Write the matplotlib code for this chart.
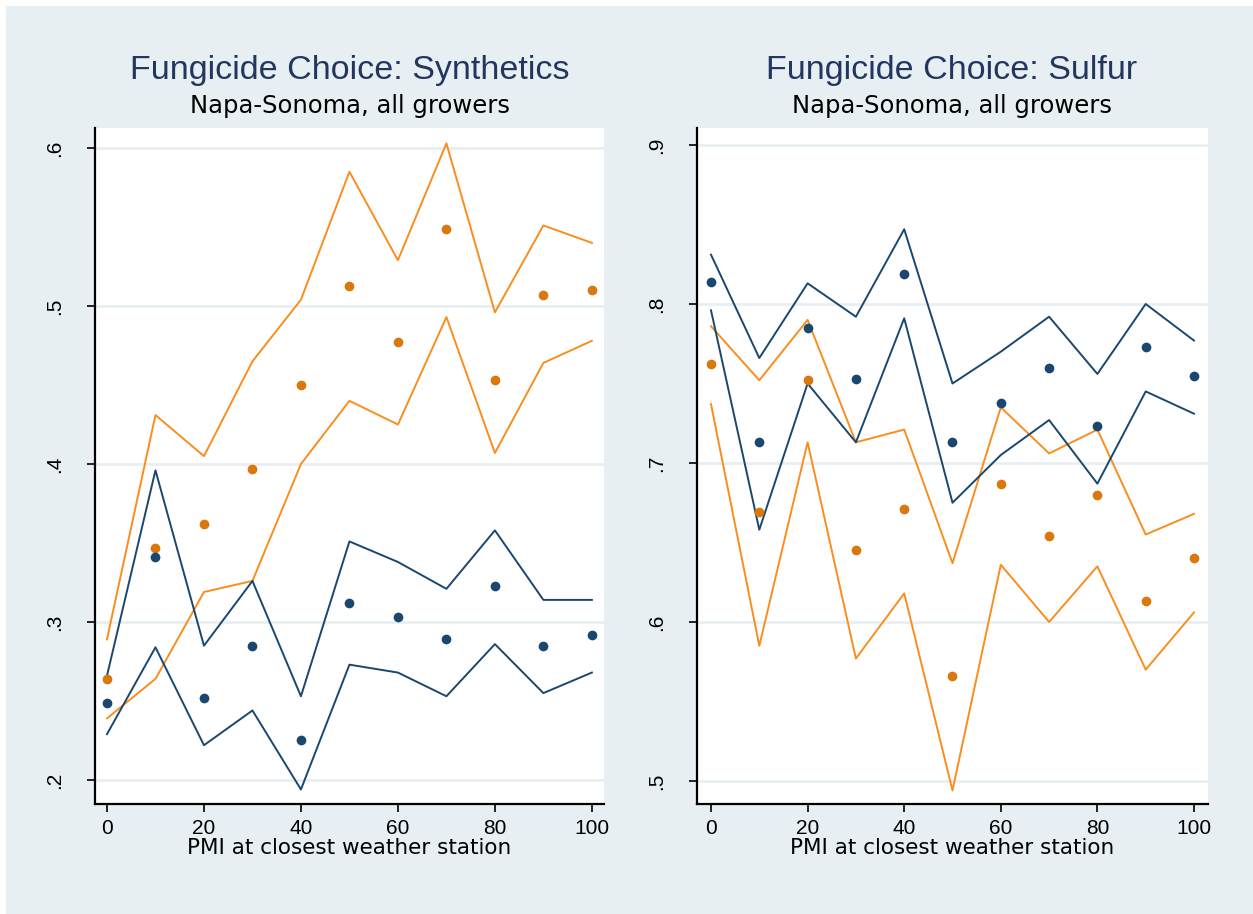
import numpy as np
import matplotlib
matplotlib.use("Agg")
import matplotlib.pyplot as plt
from matplotlib.patches import Rectangle

# PMI levels at the closest weather station
pmi = [0, 10, 20, 30, 40, 50, 60, 70, 80, 90, 100]

# Synthetics: predicted share with confidence bands (two grower groups)
syn_navy = [0.249, 0.341, 0.252, 0.285, 0.225, 0.312, 0.303, 0.289, 0.323, 0.285, 0.292]
syn_navy_hi = [0.266, 0.396, 0.285, 0.326, 0.253, 0.351, 0.338, 0.321, 0.358, 0.314, 0.314]
syn_navy_lo = [0.229, 0.284, 0.222, 0.244, 0.194, 0.273, 0.268, 0.253, 0.286, 0.255, 0.268]
syn_orange = [0.264, 0.347, 0.362, 0.397, 0.450, 0.513, 0.477, 0.549, 0.453, 0.507, 0.510]
syn_orange_hi = [0.289, 0.431, 0.405, 0.465, 0.504, 0.585, 0.529, 0.603, 0.496, 0.551, 0.540]
syn_orange_lo = [0.239, 0.264, 0.319, 0.326, 0.400, 0.440, 0.425, 0.493, 0.407, 0.464, 0.478]

# Sulfur: predicted share with confidence bands
sul_navy = [0.814, 0.713, 0.785, 0.753, 0.819, 0.713, 0.738, 0.760, 0.723, 0.773, 0.755]
sul_navy_hi = [0.831, 0.766, 0.813, 0.792, 0.847, 0.750, 0.770, 0.792, 0.756, 0.800, 0.777]
sul_navy_lo = [0.796, 0.658, 0.750, 0.713, 0.791, 0.675, 0.705, 0.727, 0.687, 0.745, 0.731]
sul_orange = [0.762, 0.669, 0.752, 0.645, 0.671, 0.566, 0.687, 0.654, 0.680, 0.613, 0.640]
sul_orange_hi = [0.786, 0.752, 0.790, 0.713, 0.721, 0.637, 0.735, 0.706, 0.721, 0.655, 0.668]
sul_orange_lo = [0.737, 0.585, 0.713, 0.577, 0.618, 0.494, 0.636, 0.600, 0.635, 0.570, 0.606]

syn_ticks = [0.2, 0.3, 0.4, 0.5, 0.6]
syn_labels = [".2", ".3", ".4", ".5", ".6"]
sul_ticks = [0.5, 0.6, 0.7, 0.8, 0.9]
sul_labels = [".5", ".6", ".7", ".8", ".9"]
x_ticks = [0, 20, 40, 60, 80, 100]

NAVY = "#1A476F"
ORANGE_DOT = "#D9780C"
ORANGE_LINE = "#F98E1F"
BG = "#E8EFF2"
TITLE_C = "#23365F"

plt.rcParams['font.family'] = ['Liberation Sans', 'DejaVu Sans']

fig = plt.figure(figsize=(12.53, 9.14), dpi=100)
fig.patch.set_facecolor("white")
fig.add_artist(Rectangle((6 / 1253, 0), 1, 1 - 6 / 914, transform=fig.transFigure,
                         facecolor=BG, edgecolor="none", zorder=-10))

panels = [
    dict(rect=[95 / 1253, 1 - 804 / 914, 509 / 1253, 676 / 914],
         title="Fungicide Choice: Synthetics", tx=350 / 1253,
         data=(syn_navy, syn_navy_hi, syn_navy_lo, syn_orange, syn_orange_hi, syn_orange_lo),
         ylim=(0.1848, 0.6127), xlim=(-2.47, 102.5),
         ticks=syn_ticks, labels=syn_labels),
    dict(rect=[697 / 1253, 1 - 804 / 914, 511 / 1253, 676 / 914],
         title="Fungicide Choice: Sulfur", tx=952 / 1253,
         data=(sul_navy, sul_navy_hi, sul_navy_lo, sul_orange, sul_orange_hi, sul_orange_lo),
         ylim=(0.4855, 0.9107), xlim=(-2.9, 102.9),
         ticks=sul_ticks, labels=sul_labels),
]

for p in panels:
    ax = fig.add_axes(p["rect"])
    ax.set_facecolor("white")
    nv, nv_hi, nv_lo, org, org_hi, org_lo = p["data"]

    for yt in p["ticks"]:
        ax.axhline(yt, color=BG, lw=2.0, zorder=0)

    ax.plot(pmi, org_hi, color=ORANGE_LINE, lw=1.4, zorder=2)
    ax.plot(pmi, org_lo, color=ORANGE_LINE, lw=1.4, zorder=2)
    ax.plot(pmi, nv_hi, color=NAVY, lw=1.4, zorder=2)
    ax.plot(pmi, nv_lo, color=NAVY, lw=1.4, zorder=2)
    ax.plot(pmi, org, "o", color=ORANGE_DOT, ms=7, mec="none", zorder=3)
    ax.plot(pmi, nv, "o", color=NAVY, ms=7, mec="none", zorder=3)

    ax.set_xlim(*p["xlim"])
    ax.set_ylim(*p["ylim"])
    ax.set_xticks(x_ticks)
    ax.set_xticklabels([str(v) for v in x_ticks], fontsize=15)
    ax.set_yticks(p["ticks"])
    ax.set_yticklabels(p["labels"], fontsize=15, rotation=90, va="center")
    ax.tick_params(direction="out", length=6, width=1.2, color="black", pad=5)
    ax.tick_params(axis="y", pad=16)

    for side in ("top", "right"):
        ax.spines[side].set_visible(False)
    for side in ("left", "bottom"):
        ax.spines[side].set_linewidth(1.6)
        ax.spines[side].set_color("black")

    ax.set_xlabel("PMI at closest weather station", fontsize=15.5,
                  family=["DejaVu Sans"], labelpad=0)

    fig.text(p["tx"], 1 - 70 / 914, p["title"], ha="center", va="center",
             fontsize=24.5, color=TITLE_C)
    fig.text(p["tx"], 1 - 106 / 914, "Napa-Sonoma, all growers", ha="center",
             va="center", fontsize=17.5, color="black", family=["DejaVu Sans"])

fig.savefig("out.png", dpi=100, facecolor=fig.get_facecolor())
